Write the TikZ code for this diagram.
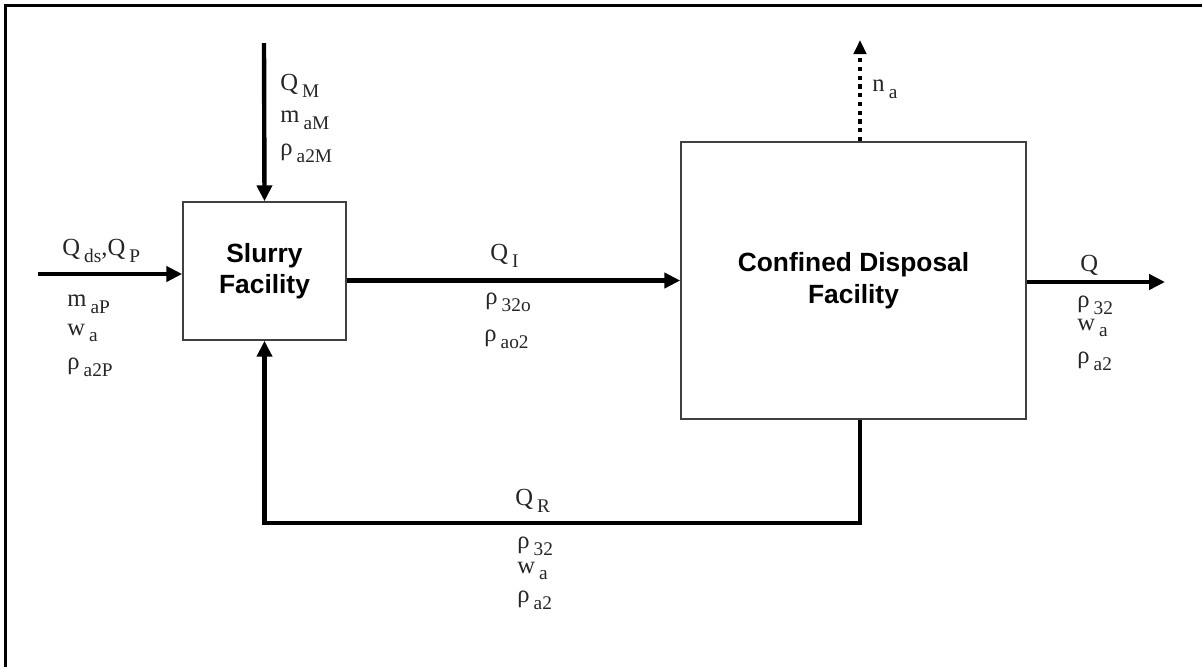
\documentclass[tikz,border=0pt]{standalone}
\usepackage{fontspec}
\setmainfont{Liberation Serif}
\newfontfamily\boxfont{Liberation Sans}
\usetikzlibrary{arrows.meta, positioning, calc}

% lowered subscript as in the original labels
\newcommand{\sbs}[1]{\,\raisebox{-0.6ex}{\fontsize{11}{11}\selectfont #1}}

\begin{document}
\begin{tikzpicture}[x=0.02cm, y=-0.02cm,
  flow/.style={line width=2.5pt, -{Triangle[length=9pt,width=8.5pt]}},
  dotflow/.style={line width=2.4pt, dash pattern=on 2.4pt off 2.6pt,
    -{Triangle[length=8pt,width=7pt]}},
  unit/.style={draw=black!75, line width=0.9pt, align=center,
    font=\boxfont\bfseries\fontsize{15}{18}\selectfont},
  lbl/.style={anchor=west, inner sep=0pt, text=black!85,
    font=\fontsize{14}{14}\selectfont}]
  \useasboundingbox (0,0) rectangle (1202,667);
  \draw[line width=1.2pt] (5.5,667) -- (5.5,5.5) -- (1202,5.5);

  % Units
  \node[unit, minimum width=3.26cm, minimum height=2.76cm]
    (slurry) at (264.5,271) {Slurry\\Facility};
  \node[unit, minimum width=6.9cm, minimum height=5.54cm]
    (cdf) at (853.5,280.5) {Confined Disposal\\Facility};

  % Free ends
  \coordinate (inP) at (38,274);
  \coordinate (inM) at (264,43);
  \coordinate (outQ) at (1165,282);
  \coordinate (naTop) at (860,40);
  \coordinate (rcR) at (860,523);

  % Streams
  \draw[flow] (inP) -- (inP -| slurry.west);
  \draw[flow] (inM) -- (slurry.north);
  \draw[flow] (slurry.east |- cdf.west) -- (cdf.west);
  \draw[flow] (cdf.east |- outQ) -- (outQ);
  \draw[dotflow] (cdf.north -| naTop) -- (naTop);
  \draw[flow] (cdf.south -| rcR) -- (rcR) -| (slurry.south);

  % Makeup stream
  \node[lbl] (lQM) at (280,86) {Q\sbs{M}};
  \node[lbl] (lmaM) at (280,120) {m\sbs{aM}};
  \node[lbl] (lraM) at (280,153) {ρ\sbs{a2M}};

  % Pipeline stream
  \node[lbl] (lQP) at (62,251) {Q\sbs{ds},Q\sbs{P}};
  \node[lbl] (lmaP) at (67,304) {m\sbs{aP}};
  \node[lbl] (lwaP) at (67,333) {w\sbs{a}};
  \node[lbl] (lraP) at (67,367) {ρ\sbs{a2P}};

  % Inflow to the disposal facility
  \node[lbl] (lQI) at (490,256) {Q\sbs{I}};
  \node[lbl] (lr32o) at (485,302) {ρ\sbs{32o}};
  \node[lbl] (lrao2) at (484,339) {ρ\sbs{ao2}};

  % Losses and outflow
  \node[lbl] (lna) at (872,89) {n\sbs{a}};
  \node[lbl] (lQ) at (1080,265) {Q};
  \node[lbl] (lr32) at (1077,305) {ρ\sbs{32}};
  \node[lbl] (lwa) at (1077,328) {w\sbs{a}};
  \node[lbl] (lra2) at (1077,361) {ρ\sbs{a2}};

  % Return flow
  \node[lbl] (lQR) at (515,501) {Q\sbs{R}};
  \node[lbl] (lrR32) at (517,546) {ρ\sbs{32}};
  \node[lbl] (lwR) at (517,571) {w\sbs{a}};
  \node[lbl] (lrRa2) at (517,600) {ρ\sbs{a2}};
\end{tikzpicture}
\end{document}
